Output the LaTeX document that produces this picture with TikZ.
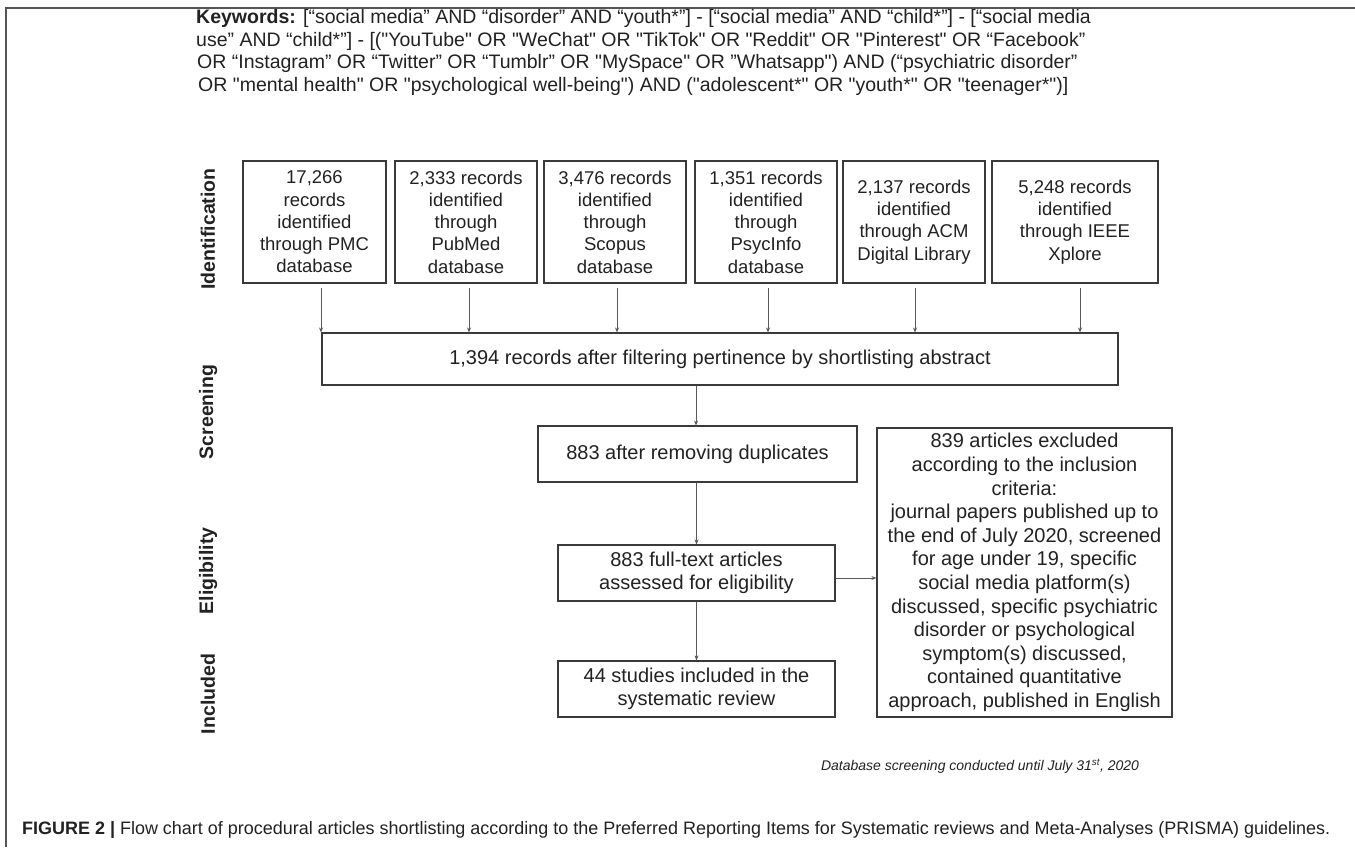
\documentclass[tikz,border=0pt]{standalone}
\usepackage{fontspec}
\setmainfont{Liberation Sans}
\usepackage{graphicx}
\usetikzlibrary{arrows.meta,calc}
\font\kwreg="Liberation Sans" at 19.5pt
\font\kwbold="Liberation Sans/B" at 19.5pt
\definecolor{ink}{HTML}{222222}
\definecolor{boxline}{HTML}{3A3A3A}
\definecolor{arrowc}{HTML}{5A5A5A}
\definecolor{framec}{HTML}{555555}
\begin{document}
\begin{tikzpicture}[x=1pt,y=-1pt,
  box/.style={draw=boxline,line width=1.1pt,text=ink,align=center,inner sep=0pt,font=\fontsize{18.5}{22.3}\selectfont},
  bigbox/.style={box,font=\fontsize{20}{23.6}\selectfont},
  arr/.style={draw=arrowc,line width=0.9pt,-{Stealth[length=5pt,width=4pt]}},
  phase/.style={rotate=90,inner sep=0pt,font=\bfseries\fontsize{19.5}{22}\selectfont,text=ink},
  kw/.style={anchor=base west,inner sep=0pt,font=\kwreg,text=ink}]

\useasboundingbox (0,0) rectangle (1355,847);
\fill[white] (0,0) rectangle (1355,847);
\draw[framec,line width=1.5pt] (6,847) -- (6,8) -- (1355,8);

% keywords
\node[kw] (kw1) at (196,23.5) {{\kwbold Keywords:} [“social media” AND “disorder” AND “youth*”] - [“social media” AND “child*”] - [“social media};
\node[kw] (kw2) at (196,46) {use” AND “child*”] - [("YouTube" OR "WeChat" OR "TikTok" OR "Reddit" OR "Pinterest" OR “Facebook”};
\node[kw] (kw3) at (197,68.5) {OR “Instagram” OR “Twitter” OR “Tumblr” OR "MySpace" OR ”Whatsapp") AND (“psychiatric disorder”};
\node[kw] (kw4) at (198,91) {OR "mental health" OR "psychological well-being") AND ("adolescent*" OR "youth*" OR "teenager*")]};

% phase labels
\node[phase] (pId) at (208,229) {Identification};
\node[phase] (pSc) at (208,412) {Screening};
\node[phase] (pEl) at (208,571) {Eligibility};
\node[phase] (pIn) at (208,694) {Included};

% identification boxes
\node[box,minimum width=143pt,minimum height=122pt] (b1) at (314.5,222) {17,266\\records\\identified\\through PMC\\database};
\node[box,minimum width=142pt,minimum height=122pt] (b2) at (466,222) {2,333 records\\identified\\through\\PubMed\\database};
\node[box,minimum width=142pt,minimum height=122pt] (b3) at (615,222) {3,476 records\\identified\\through\\Scopus\\database};
\node[box,minimum width=142pt,minimum height=122pt] (b4) at (766,222) {1,351 records\\identified\\through\\PsycInfo\\database};
\node[box,minimum width=142pt,minimum height=122pt] (b5) at (914,222) {2,137 records\\identified\\through ACM\\Digital Library};
\node[box,minimum width=166pt,minimum height=122pt] (b6) at (1075,222) {5,248 records\\identified\\through IEEE\\Xplore};

% flow boxes
\node[bigbox,minimum width=796pt,minimum height=52pt] (filt) at (720,359) {1,394 records after filtering pertinence by shortlisting abstract};
\node[bigbox,minimum width=319pt,minimum height=56pt] (dup) at (697.5,454) {883 after removing duplicates};
\node[bigbox,minimum width=277pt,minimum height=56pt] (full) at (696.5,573) {883 full-text articles\\assessed for eligibility};
\node[bigbox,minimum width=277pt,minimum height=56pt] (incl) at (696.5,689) {44 studies included in the\\systematic review};
\node[bigbox,minimum width=295pt,minimum height=289pt] (excl) at (1024.5,572.5) {839 articles excluded\\according to the inclusion\\criteria:\\journal papers published up to\\the end of July 2020, screened\\for age under 19, specific\\social media platform(s)\\discussed, specific psychiatric\\disorder or psychological\\symptom(s) discussed,\\contained quantitative\\approach, published in English};

% arrows
\foreach \n/\dx in {b1/6.5,b2/3,b3/2,b4/2,b5/1,b6/5}
  \draw[arr] ([xshift=\dx pt,yshift=-4pt]\n.south) -- ([xshift=\dx pt]\n.south |- filt.north);
\draw[arr] ([xshift=-1.5pt]dup.north |- filt.south) -- ([xshift=-1.5pt]dup.north);
\draw[arr] (dup.south -| full.north) -- (full.north);
\draw[arr] (full.south) -- (incl.north);
\draw[arr] ([yshift=-5pt]full.east) -- ([yshift=-5pt]full.east -| excl.west);

% note and caption
\node[inner sep=0pt,text=ink,font=\itshape\fontsize{14}{16}\selectfont] (note) at (980,766) {Database screening conducted until July 31\textsuperscript{st}, 2020};
\node[anchor=base west,inner sep=0pt,text=ink] (cap) at (22,834.5) {\resizebox{1308pt}{\height}{\fontsize{18}{20}\selectfont\textbf{FIGURE 2 |} Flow chart of procedural articles shortlisting according to the Preferred Reporting Items for Systematic reviews and Meta-Analyses (PRISMA) guidelines.}};
\end{tikzpicture}
\end{document}
